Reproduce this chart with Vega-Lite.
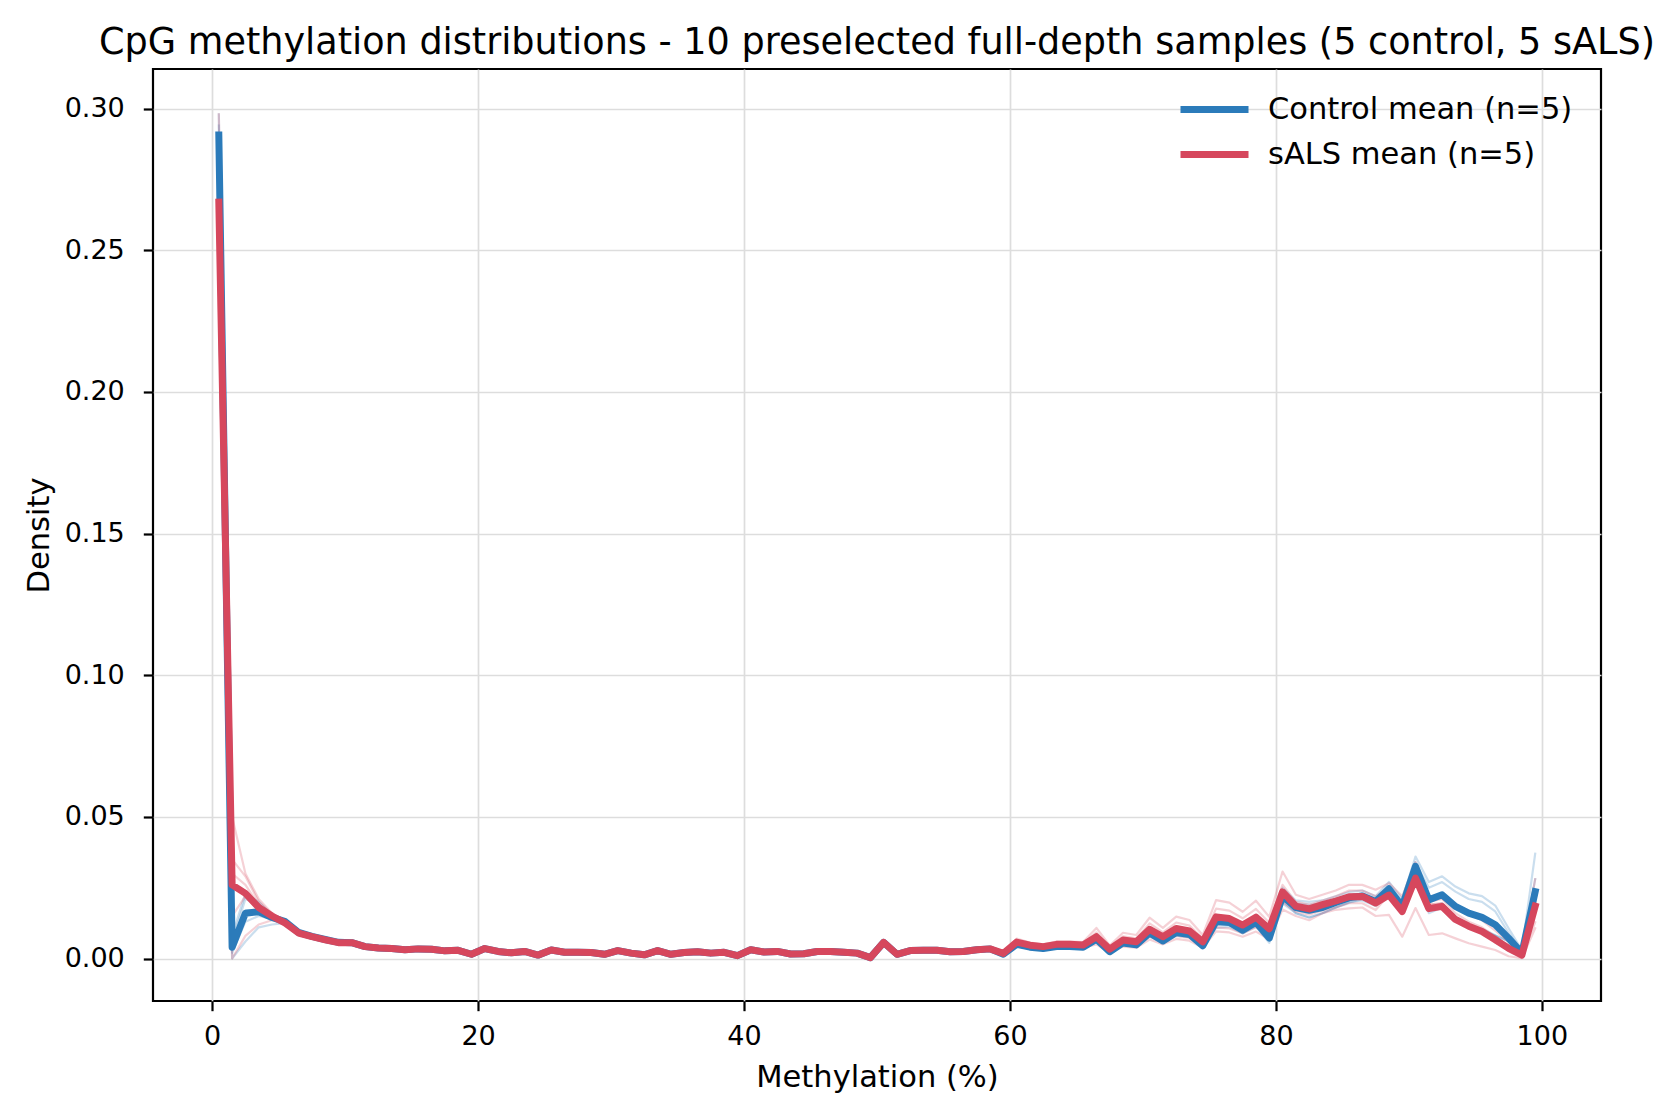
{
  "$schema": "https://vega.github.io/schema/vega-lite/v6.json",
  "description": "CpG methylation distributions, control vs sALS",
  "width": 1448,
  "height": 932,
  "autosize": {"type": "none"},
  "padding": {"left": 153, "top": 69, "right": 78, "bottom": 113},
  "background": "white",
  "title": {
    "text": "CpG methylation distributions - 10 preselected full-depth samples (5 control, 5 sALS)",
    "font": "DejaVu Sans",
    "fontSize": 36.6,
    "fontWeight": "normal",
    "color": "black",
    "anchor": "middle",
    "frame": "group",
    "baseline": "alphabetic",
    "offset": 17,
    "dy": 39
  },
  "config": {
    "font": "DejaVu Sans",
    "view": {"stroke": "black", "strokeWidth": 2.2},
    "axis": {
      "domain": false,
      "grid": true,
      "gridColor": "#dddddd",
      "gridWidth": 1.7,
      "tickColor": "black",
      "tickSize": 9.7,
      "tickWidth": 2.2,
      "labelFont": "DejaVu Sans",
      "labelFontSize": 27,
      "labelColor": "black",
      "labelPadding": 8,
      "titleFont": "DejaVu Sans",
      "titleFontSize": 30.5,
      "titleFontWeight": "normal",
      "titleColor": "black"
    },
    "legend": {
      "orient": "none",
      "legendX": 1024,
      "legendY": 18,
      "padding": 0,
      "symbolType": "stroke",
      "symbolSize": 4624,
      "symbolStrokeWidth": 7,
      "clipHeight": 45,
      "rowPadding": 0,
      "labelOffset": 16,
      "labelLimit": 500,
      "labelFont": "DejaVu Sans",
      "labelFontSize": 30.5,
      "labelColor": "black",
      "title": null
    }
  },
  "data": {
    "values": [
      {"x": 0.5, "cm": 0.2907, "sm": 0.267, "c1": 0.298, "c2": 0.294, "c3": 0.29, "c4": 0.287, "c5": 0.284, "s1": 0.298, "s2": 0.285, "s3": 0.27, "s4": 0.25, "s5": 0.232},
      {"x": 1.5, "cm": 0.004, "sm": 0.026, "c1": 0.0, "c2": 0.002, "c3": 0.004, "c4": 0.006, "c5": 0.008, "s1": 0.05, "s2": 0.035, "s3": 0.03, "s4": 0.015, "s5": 0.0},
      {"x": 2.5, "cm": 0.016, "sm": 0.023, "c1": 0.006, "c2": 0.013, "c3": 0.017, "c4": 0.021, "c5": 0.023, "s1": 0.03, "s2": 0.029, "s3": 0.026, "s4": 0.022, "s5": 0.008},
      {"x": 3.5, "cm": 0.0165, "sm": 0.018, "c1": 0.011, "c2": 0.015, "c3": 0.017, "c4": 0.019, "c5": 0.02, "s1": 0.021, "s2": 0.02, "s3": 0.019, "s4": 0.018, "s5": 0.012},
      {"x": 4.5, "cm": 0.0145, "sm": 0.015, "c1": 0.012, "c2": 0.014, "c3": 0.015, "c4": 0.0155, "c5": 0.0155, "s1": 0.016, "s2": 0.0155, "s3": 0.015, "s4": 0.015, "s5": 0.0135},
      {"x": 5.5, "cm": 0.013, "sm": 0.0125, "c1": 0.0125, "c2": 0.013, "c3": 0.013, "c4": 0.0135, "c5": 0.013, "s1": 0.013, "s2": 0.0125, "s3": 0.0125, "s4": 0.0125, "s5": 0.012},
      {"x": 6.5, "cm": 0.0092, "sm": 0.009, "c1": 0.0096, "c2": 0.0094, "c3": 0.0092, "c4": 0.009, "c5": 0.0088, "s1": 0.0094, "s2": 0.0092, "s3": 0.009, "s4": 0.0088, "s5": 0.0086},
      {"x": 7.5, "cm": 0.0078, "sm": 0.0077, "c1": 0.0082, "c2": 0.008, "c3": 0.0078, "c4": 0.0076, "c5": 0.0074, "s1": 0.0081, "s2": 0.0079, "s3": 0.0077, "s4": 0.0075, "s5": 0.0073},
      {"x": 8.5, "cm": 0.0067, "sm": 0.0066, "c1": 0.0071, "c2": 0.0069, "c3": 0.0067, "c4": 0.0065, "c5": 0.0063, "s1": 0.007, "s2": 0.0068, "s3": 0.0066, "s4": 0.0064, "s5": 0.0062},
      {"x": 9.5, "cm": 0.0057, "sm": 0.0056, "c1": 0.006, "c2": 0.0059, "c3": 0.0057, "c4": 0.0055, "c5": 0.0054, "s1": 0.0059, "s2": 0.0058, "s3": 0.0056, "s4": 0.0054, "s5": 0.0053},
      {"x": 10.5, "cm": 0.0056, "sm": 0.0056, "c1": 0.0058, "c2": 0.0057, "c3": 0.0056, "c4": 0.0055, "c5": 0.0054, "s1": 0.0058, "s2": 0.0057, "s3": 0.0056, "s4": 0.0055, "s5": 0.0054},
      {"x": 11.5, "cm": 0.0042, "sm": 0.0042, "c1": 0.0044, "c2": 0.0043, "c3": 0.0042, "c4": 0.0041, "c5": 0.004, "s1": 0.0044, "s2": 0.0043, "s3": 0.0042, "s4": 0.0041, "s5": 0.004},
      {"x": 12.5, "cm": 0.0037, "sm": 0.0037, "c1": 0.0039, "c2": 0.0038, "c3": 0.0037, "c4": 0.0036, "c5": 0.0035, "s1": 0.0039, "s2": 0.0038, "s3": 0.0037, "s4": 0.0036, "s5": 0.0035},
      {"x": 13.5, "cm": 0.0035, "sm": 0.0035, "c1": 0.0037, "c2": 0.0036, "c3": 0.0035, "c4": 0.0034, "c5": 0.0033, "s1": 0.0037, "s2": 0.0036, "s3": 0.0035, "s4": 0.0034, "s5": 0.0033},
      {"x": 14.5, "cm": 0.0031, "sm": 0.0031, "c1": 0.0033, "c2": 0.0032, "c3": 0.0031, "c4": 0.003, "c5": 0.0029, "s1": 0.0033, "s2": 0.0032, "s3": 0.0031, "s4": 0.003, "s5": 0.0029},
      {"x": 15.5, "cm": 0.0034, "sm": 0.0034, "c1": 0.0036, "c2": 0.0035, "c3": 0.0034, "c4": 0.0033, "c5": 0.0032, "s1": 0.0036, "s2": 0.0035, "s3": 0.0034, "s4": 0.0033, "s5": 0.0032},
      {"x": 16.5, "cm": 0.0033, "sm": 0.0033, "c1": 0.0035, "c2": 0.0034, "c3": 0.0033, "c4": 0.0032, "c5": 0.0031, "s1": 0.0035, "s2": 0.0034, "s3": 0.0033, "s4": 0.0032, "s5": 0.0031},
      {"x": 17.5, "cm": 0.0027, "sm": 0.0027, "c1": 0.0029, "c2": 0.0028, "c3": 0.0027, "c4": 0.0026, "c5": 0.0025, "s1": 0.0029, "s2": 0.0028, "s3": 0.0027, "s4": 0.0026, "s5": 0.0025},
      {"x": 18.5, "cm": 0.0029, "sm": 0.0029, "c1": 0.0031, "c2": 0.003, "c3": 0.0029, "c4": 0.0028, "c5": 0.0027, "s1": 0.0031, "s2": 0.003, "s3": 0.0029, "s4": 0.0028, "s5": 0.0027},
      {"x": 19.5, "cm": 0.0015, "sm": 0.0015, "c1": 0.0017, "c2": 0.0016, "c3": 0.0015, "c4": 0.0014, "c5": 0.0013, "s1": 0.0017, "s2": 0.0016, "s3": 0.0015, "s4": 0.0014, "s5": 0.0013},
      {"x": 20.5, "cm": 0.0035, "sm": 0.0035, "c1": 0.0037, "c2": 0.0036, "c3": 0.0035, "c4": 0.0034, "c5": 0.0033, "s1": 0.0037, "s2": 0.0036, "s3": 0.0035, "s4": 0.0034, "s5": 0.0033},
      {"x": 21.5, "cm": 0.0025, "sm": 0.0025, "c1": 0.0027, "c2": 0.0026, "c3": 0.0025, "c4": 0.0024, "c5": 0.0023, "s1": 0.0027, "s2": 0.0026, "s3": 0.0025, "s4": 0.0024, "s5": 0.0023},
      {"x": 22.5, "cm": 0.002, "sm": 0.002, "c1": 0.0022, "c2": 0.0021, "c3": 0.002, "c4": 0.0019, "c5": 0.0018, "s1": 0.0022, "s2": 0.0021, "s3": 0.002, "s4": 0.0019, "s5": 0.0018},
      {"x": 23.5, "cm": 0.0025, "sm": 0.0025, "c1": 0.0027, "c2": 0.0026, "c3": 0.0025, "c4": 0.0024, "c5": 0.0023, "s1": 0.0027, "s2": 0.0026, "s3": 0.0025, "s4": 0.0024, "s5": 0.0023},
      {"x": 24.5, "cm": 0.0012, "sm": 0.0012, "c1": 0.0014, "c2": 0.0013, "c3": 0.0012, "c4": 0.0011, "c5": 0.001, "s1": 0.0014, "s2": 0.0013, "s3": 0.0012, "s4": 0.0011, "s5": 0.001},
      {"x": 25.5, "cm": 0.003, "sm": 0.003, "c1": 0.0032, "c2": 0.0031, "c3": 0.003, "c4": 0.0029, "c5": 0.0028, "s1": 0.0032, "s2": 0.0031, "s3": 0.003, "s4": 0.0029, "s5": 0.0028},
      {"x": 26.5, "cm": 0.0022, "sm": 0.0022, "c1": 0.0024, "c2": 0.0023, "c3": 0.0022, "c4": 0.0021, "c5": 0.002, "s1": 0.0024, "s2": 0.0023, "s3": 0.0022, "s4": 0.0021, "s5": 0.002},
      {"x": 27.5, "cm": 0.0022, "sm": 0.0022, "c1": 0.0024, "c2": 0.0023, "c3": 0.0022, "c4": 0.0021, "c5": 0.002, "s1": 0.0024, "s2": 0.0023, "s3": 0.0022, "s4": 0.0021, "s5": 0.002},
      {"x": 28.5, "cm": 0.0021, "sm": 0.0021, "c1": 0.0023, "c2": 0.0022, "c3": 0.0021, "c4": 0.002, "c5": 0.0019, "s1": 0.0023, "s2": 0.0022, "s3": 0.0021, "s4": 0.002, "s5": 0.0019},
      {"x": 29.5, "cm": 0.0015, "sm": 0.0015, "c1": 0.0017, "c2": 0.0016, "c3": 0.0015, "c4": 0.0014, "c5": 0.0013, "s1": 0.0017, "s2": 0.0016, "s3": 0.0015, "s4": 0.0014, "s5": 0.0013},
      {"x": 30.5, "cm": 0.0028, "sm": 0.0028, "c1": 0.003, "c2": 0.0029, "c3": 0.0028, "c4": 0.0027, "c5": 0.0026, "s1": 0.003, "s2": 0.0029, "s3": 0.0028, "s4": 0.0027, "s5": 0.0026},
      {"x": 31.5, "cm": 0.0019, "sm": 0.0019, "c1": 0.0021, "c2": 0.002, "c3": 0.0019, "c4": 0.0018, "c5": 0.0017, "s1": 0.0021, "s2": 0.002, "s3": 0.0019, "s4": 0.0018, "s5": 0.0017},
      {"x": 32.5, "cm": 0.0013, "sm": 0.0013, "c1": 0.0015, "c2": 0.0014, "c3": 0.0013, "c4": 0.0012, "c5": 0.0011, "s1": 0.0015, "s2": 0.0014, "s3": 0.0013, "s4": 0.0012, "s5": 0.0011},
      {"x": 33.5, "cm": 0.0028, "sm": 0.0028, "c1": 0.003, "c2": 0.0029, "c3": 0.0028, "c4": 0.0027, "c5": 0.0026, "s1": 0.003, "s2": 0.0029, "s3": 0.0028, "s4": 0.0027, "s5": 0.0026},
      {"x": 34.5, "cm": 0.0015, "sm": 0.0015, "c1": 0.0017, "c2": 0.0016, "c3": 0.0015, "c4": 0.0014, "c5": 0.0013, "s1": 0.0017, "s2": 0.0016, "s3": 0.0015, "s4": 0.0014, "s5": 0.0013},
      {"x": 35.5, "cm": 0.0021, "sm": 0.0021, "c1": 0.0023, "c2": 0.0022, "c3": 0.0021, "c4": 0.002, "c5": 0.0019, "s1": 0.0023, "s2": 0.0022, "s3": 0.0021, "s4": 0.002, "s5": 0.0019},
      {"x": 36.5, "cm": 0.0024, "sm": 0.0024, "c1": 0.0026, "c2": 0.0025, "c3": 0.0024, "c4": 0.0023, "c5": 0.0022, "s1": 0.0026, "s2": 0.0025, "s3": 0.0024, "s4": 0.0023, "s5": 0.0022},
      {"x": 37.5, "cm": 0.0019, "sm": 0.0019, "c1": 0.0021, "c2": 0.002, "c3": 0.0019, "c4": 0.0018, "c5": 0.0017, "s1": 0.0021, "s2": 0.002, "s3": 0.0019, "s4": 0.0018, "s5": 0.0017},
      {"x": 38.5, "cm": 0.0022, "sm": 0.0022, "c1": 0.0024, "c2": 0.0023, "c3": 0.0022, "c4": 0.0021, "c5": 0.002, "s1": 0.0024, "s2": 0.0023, "s3": 0.0022, "s4": 0.0021, "s5": 0.002},
      {"x": 39.5, "cm": 0.001, "sm": 0.001, "c1": 0.0012, "c2": 0.0011, "c3": 0.001, "c4": 0.0009, "c5": 0.0008, "s1": 0.0012, "s2": 0.0011, "s3": 0.001, "s4": 0.0009, "s5": 0.0008},
      {"x": 40.5, "cm": 0.0031, "sm": 0.0031, "c1": 0.0033, "c2": 0.0032, "c3": 0.0031, "c4": 0.003, "c5": 0.0029, "s1": 0.0033, "s2": 0.0032, "s3": 0.0031, "s4": 0.003, "s5": 0.0029},
      {"x": 41.5, "cm": 0.0023, "sm": 0.0023, "c1": 0.0025, "c2": 0.0024, "c3": 0.0023, "c4": 0.0022, "c5": 0.0021, "s1": 0.0025, "s2": 0.0024, "s3": 0.0023, "s4": 0.0022, "s5": 0.0021},
      {"x": 42.5, "cm": 0.0025, "sm": 0.0025, "c1": 0.0027, "c2": 0.0026, "c3": 0.0025, "c4": 0.0024, "c5": 0.0023, "s1": 0.0027, "s2": 0.0026, "s3": 0.0025, "s4": 0.0024, "s5": 0.0023},
      {"x": 43.5, "cm": 0.0016, "sm": 0.0016, "c1": 0.0018, "c2": 0.0017, "c3": 0.0016, "c4": 0.0015, "c5": 0.0014, "s1": 0.0018, "s2": 0.0017, "s3": 0.0016, "s4": 0.0015, "s5": 0.0014},
      {"x": 44.5, "cm": 0.0017, "sm": 0.0017, "c1": 0.0019, "c2": 0.0018, "c3": 0.0017, "c4": 0.0016, "c5": 0.0015, "s1": 0.0019, "s2": 0.0018, "s3": 0.0017, "s4": 0.0016, "s5": 0.0015},
      {"x": 45.5, "cm": 0.0025, "sm": 0.0025, "c1": 0.0027, "c2": 0.0026, "c3": 0.0025, "c4": 0.0024, "c5": 0.0023, "s1": 0.0027, "s2": 0.0026, "s3": 0.0025, "s4": 0.0024, "s5": 0.0023},
      {"x": 46.5, "cm": 0.0025, "sm": 0.0025, "c1": 0.0027, "c2": 0.0026, "c3": 0.0025, "c4": 0.0024, "c5": 0.0023, "s1": 0.0027, "s2": 0.0026, "s3": 0.0025, "s4": 0.0024, "s5": 0.0023},
      {"x": 47.5, "cm": 0.0022, "sm": 0.0022, "c1": 0.0024, "c2": 0.0023, "c3": 0.0022, "c4": 0.0021, "c5": 0.002, "s1": 0.0024, "s2": 0.0023, "s3": 0.0022, "s4": 0.0021, "s5": 0.002},
      {"x": 48.5, "cm": 0.0019, "sm": 0.0019, "c1": 0.0021, "c2": 0.002, "c3": 0.0019, "c4": 0.0018, "c5": 0.0017, "s1": 0.0021, "s2": 0.002, "s3": 0.0019, "s4": 0.0018, "s5": 0.0017},
      {"x": 49.5, "cm": 0.0003, "sm": 0.0003, "c1": 0.0005, "c2": 0.0004, "c3": 0.0003, "c4": 0.0002, "c5": 0.0001, "s1": 0.0005, "s2": 0.0004, "s3": 0.0003, "s4": 0.0002, "s5": 0.0001},
      {"x": 50.5, "cm": 0.0057, "sm": 0.0057, "c1": 0.0059, "c2": 0.0058, "c3": 0.0057, "c4": 0.0056, "c5": 0.0055, "s1": 0.0059, "s2": 0.0058, "s3": 0.0057, "s4": 0.0056, "s5": 0.0055},
      {"x": 51.5, "cm": 0.0015, "sm": 0.0015, "c1": 0.0017, "c2": 0.0016, "c3": 0.0015, "c4": 0.0014, "c5": 0.0013, "s1": 0.0017, "s2": 0.0016, "s3": 0.0015, "s4": 0.0014, "s5": 0.0013},
      {"x": 52.5, "cm": 0.0028, "sm": 0.0028, "c1": 0.003, "c2": 0.0029, "c3": 0.0028, "c4": 0.0027, "c5": 0.0026, "s1": 0.003, "s2": 0.0029, "s3": 0.0028, "s4": 0.0027, "s5": 0.0026},
      {"x": 53.5, "cm": 0.0029, "sm": 0.0029, "c1": 0.0031, "c2": 0.003, "c3": 0.0029, "c4": 0.0028, "c5": 0.0027, "s1": 0.0031, "s2": 0.003, "s3": 0.0029, "s4": 0.0028, "s5": 0.0027},
      {"x": 54.5, "cm": 0.0029, "sm": 0.0029, "c1": 0.0031, "c2": 0.003, "c3": 0.0029, "c4": 0.0028, "c5": 0.0027, "s1": 0.0031, "s2": 0.003, "s3": 0.0029, "s4": 0.0028, "s5": 0.0027},
      {"x": 55.5, "cm": 0.0024, "sm": 0.0024, "c1": 0.0026, "c2": 0.0025, "c3": 0.0024, "c4": 0.0023, "c5": 0.0022, "s1": 0.0026, "s2": 0.0025, "s3": 0.0024, "s4": 0.0023, "s5": 0.0022},
      {"x": 56.5, "cm": 0.0025, "sm": 0.0025, "c1": 0.0027, "c2": 0.0026, "c3": 0.0025, "c4": 0.0024, "c5": 0.0023, "s1": 0.0027, "s2": 0.0026, "s3": 0.0025, "s4": 0.0024, "s5": 0.0023},
      {"x": 57.5, "cm": 0.0031, "sm": 0.0031, "c1": 0.0033, "c2": 0.0032, "c3": 0.0031, "c4": 0.003, "c5": 0.0029, "s1": 0.0033, "s2": 0.0032, "s3": 0.0031, "s4": 0.003, "s5": 0.0029},
      {"x": 58.5, "cm": 0.0034, "sm": 0.0034, "c1": 0.0036, "c2": 0.0035, "c3": 0.0034, "c4": 0.0033, "c5": 0.0032, "s1": 0.0036, "s2": 0.0035, "s3": 0.0034, "s4": 0.0033, "s5": 0.0032},
      {"x": 59.5, "cm": 0.0015, "sm": 0.0018, "c1": 0.0017, "c2": 0.0016, "c3": 0.0015, "c4": 0.0014, "c5": 0.0013, "s1": 0.0022, "s2": 0.002, "s3": 0.0018, "s4": 0.0016, "s5": 0.0014},
      {"x": 60.5, "cm": 0.005, "sm": 0.0058, "c1": 0.0056, "c2": 0.0052, "c3": 0.005, "c4": 0.0048, "c5": 0.0044, "s1": 0.007, "s2": 0.0064, "s3": 0.0058, "s4": 0.0052, "s5": 0.0046},
      {"x": 61.5, "cm": 0.004, "sm": 0.0047, "c1": 0.0045, "c2": 0.0042, "c3": 0.004, "c4": 0.0038, "c5": 0.0035, "s1": 0.0056, "s2": 0.0052, "s3": 0.0047, "s4": 0.0042, "s5": 0.0038},
      {"x": 62.5, "cm": 0.0035, "sm": 0.0042, "c1": 0.0039, "c2": 0.0037, "c3": 0.0035, "c4": 0.0033, "c5": 0.0031, "s1": 0.005, "s2": 0.0046, "s3": 0.0042, "s4": 0.0038, "s5": 0.0034},
      {"x": 63.5, "cm": 0.0042, "sm": 0.005, "c1": 0.0047, "c2": 0.0044, "c3": 0.0042, "c4": 0.004, "c5": 0.0037, "s1": 0.006, "s2": 0.0055, "s3": 0.005, "s4": 0.0045, "s5": 0.004},
      {"x": 64.5, "cm": 0.0042, "sm": 0.005, "c1": 0.0047, "c2": 0.0044, "c3": 0.0042, "c4": 0.004, "c5": 0.0037, "s1": 0.006, "s2": 0.0055, "s3": 0.005, "s4": 0.0045, "s5": 0.004},
      {"x": 65.5, "cm": 0.004, "sm": 0.0048, "c1": 0.0045, "c2": 0.0042, "c3": 0.004, "c4": 0.0038, "c5": 0.0035, "s1": 0.0058, "s2": 0.0053, "s3": 0.0048, "s4": 0.0043, "s5": 0.0038},
      {"x": 66.5, "cm": 0.0068, "sm": 0.0077, "c1": 0.0076, "c2": 0.0071, "c3": 0.0068, "c4": 0.0065, "c5": 0.006, "s1": 0.0108, "s2": 0.0092, "s3": 0.0077, "s4": 0.0058, "s5": 0.005},
      {"x": 67.5, "cm": 0.0024, "sm": 0.0033, "c1": 0.0027, "c2": 0.0025, "c3": 0.0024, "c4": 0.0023, "c5": 0.0021, "s1": 0.0046, "s2": 0.004, "s3": 0.0033, "s4": 0.0025, "s5": 0.0021},
      {"x": 68.5, "cm": 0.0055, "sm": 0.0065, "c1": 0.0062, "c2": 0.0058, "c3": 0.0055, "c4": 0.0052, "c5": 0.0048, "s1": 0.0091, "s2": 0.0078, "s3": 0.0065, "s4": 0.0049, "s5": 0.0042},
      {"x": 69.5, "cm": 0.0048, "sm": 0.0059, "c1": 0.0054, "c2": 0.005, "c3": 0.0048, "c4": 0.0046, "c5": 0.0042, "s1": 0.0083, "s2": 0.0071, "s3": 0.0059, "s4": 0.0044, "s5": 0.0038},
      {"x": 70.5, "cm": 0.009, "sm": 0.0103, "c1": 0.0101, "c2": 0.0095, "c3": 0.009, "c4": 0.0086, "c5": 0.0079, "s1": 0.0144, "s2": 0.0124, "s3": 0.0103, "s4": 0.0077, "s5": 0.0067},
      {"x": 71.5, "cm": 0.0062, "sm": 0.0077, "c1": 0.0069, "c2": 0.0065, "c3": 0.0062, "c4": 0.0059, "c5": 0.0055, "s1": 0.0108, "s2": 0.0092, "s3": 0.0077, "s4": 0.0058, "s5": 0.005},
      {"x": 72.5, "cm": 0.0092, "sm": 0.0106, "c1": 0.0103, "c2": 0.0097, "c3": 0.0092, "c4": 0.0087, "c5": 0.0081, "s1": 0.0148, "s2": 0.0127, "s3": 0.0106, "s4": 0.008, "s5": 0.0069},
      {"x": 73.5, "cm": 0.0085, "sm": 0.0097, "c1": 0.0095, "c2": 0.0089, "c3": 0.0085, "c4": 0.0081, "c5": 0.0075, "s1": 0.0136, "s2": 0.0116, "s3": 0.0097, "s4": 0.0073, "s5": 0.0063},
      {"x": 74.5, "cm": 0.0045, "sm": 0.0059, "c1": 0.005, "c2": 0.0047, "c3": 0.0045, "c4": 0.0043, "c5": 0.004, "s1": 0.0083, "s2": 0.0071, "s3": 0.0059, "s4": 0.0044, "s5": 0.0038},
      {"x": 75.5, "cm": 0.013, "sm": 0.0147, "c1": 0.0146, "c2": 0.0137, "c3": 0.013, "c4": 0.0124, "c5": 0.0108, "s1": 0.0206, "s2": 0.0176, "s3": 0.0147, "s4": 0.011, "s5": 0.0096},
      {"x": 76.5, "cm": 0.0127, "sm": 0.0141, "c1": 0.0142, "c2": 0.0133, "c3": 0.0127, "c4": 0.0121, "c5": 0.0112, "s1": 0.0197, "s2": 0.0169, "s3": 0.0141, "s4": 0.0106, "s5": 0.0092},
      {"x": 77.5, "cm": 0.01, "sm": 0.0118, "c1": 0.0112, "c2": 0.0105, "c3": 0.01, "c4": 0.0095, "c5": 0.0088, "s1": 0.0165, "s2": 0.0142, "s3": 0.0118, "s4": 0.0089, "s5": 0.0077},
      {"x": 78.5, "cm": 0.0128, "sm": 0.0146, "c1": 0.0143, "c2": 0.0134, "c3": 0.0128, "c4": 0.0122, "c5": 0.0113, "s1": 0.0204, "s2": 0.0175, "s3": 0.0146, "s4": 0.011, "s5": 0.0095},
      {"x": 79.5, "cm": 0.0072, "sm": 0.0105, "c1": 0.0085, "c2": 0.0076, "c3": 0.0072, "c4": 0.0068, "c5": 0.0055, "s1": 0.0147, "s2": 0.0126, "s3": 0.0105, "s4": 0.0079, "s5": 0.0068},
      {"x": 80.5, "cm": 0.022, "sm": 0.0235, "c1": 0.025, "c2": 0.023, "c3": 0.022, "c4": 0.0205, "c5": 0.0195, "s1": 0.0307, "s2": 0.026, "s3": 0.0235, "s4": 0.02, "s5": 0.0173},
      {"x": 81.5, "cm": 0.018, "sm": 0.0185, "c1": 0.0205, "c2": 0.0195, "c3": 0.018, "c4": 0.016, "c5": 0.016, "s1": 0.0225, "s2": 0.02, "s3": 0.0185, "s4": 0.0165, "s5": 0.015},
      {"x": 82.5, "cm": 0.017, "sm": 0.0175, "c1": 0.02, "c2": 0.019, "c3": 0.017, "c4": 0.0145, "c5": 0.0145, "s1": 0.021, "s2": 0.019, "s3": 0.0175, "s4": 0.0155, "s5": 0.0135},
      {"x": 83.5, "cm": 0.018, "sm": 0.019, "c1": 0.0205, "c2": 0.0195, "c3": 0.018, "c4": 0.016, "c5": 0.016, "s1": 0.0225, "s2": 0.0205, "s3": 0.019, "s4": 0.017, "s5": 0.016},
      {"x": 84.5, "cm": 0.0198, "sm": 0.0203, "c1": 0.022, "c2": 0.021, "c3": 0.0198, "c4": 0.018, "c5": 0.018, "s1": 0.024, "s2": 0.022, "s3": 0.0203, "s4": 0.018, "s5": 0.0172},
      {"x": 85.5, "cm": 0.0214, "sm": 0.0218, "c1": 0.0235, "c2": 0.0225, "c3": 0.0214, "c4": 0.0197, "c5": 0.0199, "s1": 0.026, "s2": 0.024, "s3": 0.0218, "s4": 0.0195, "s5": 0.0177},
      {"x": 86.5, "cm": 0.0221, "sm": 0.0219, "c1": 0.024, "c2": 0.023, "c3": 0.022, "c4": 0.021, "c5": 0.0205, "s1": 0.026, "s2": 0.024, "s3": 0.022, "s4": 0.0195, "s5": 0.018},
      {"x": 87.5, "cm": 0.0201, "sm": 0.0196, "c1": 0.022, "c2": 0.021, "c3": 0.02, "c4": 0.019, "c5": 0.0185, "s1": 0.0243, "s2": 0.022, "s3": 0.0196, "s4": 0.0171, "s5": 0.015},
      {"x": 88.5, "cm": 0.0246, "sm": 0.0224, "c1": 0.027, "c2": 0.0255, "c3": 0.0245, "c4": 0.0235, "c5": 0.0225, "s1": 0.0266, "s2": 0.025, "s3": 0.0225, "s4": 0.0225, "s5": 0.0154},
      {"x": 89.5, "cm": 0.0184, "sm": 0.0166, "c1": 0.021, "c2": 0.0195, "c3": 0.018, "c4": 0.017, "c5": 0.0165, "s1": 0.022, "s2": 0.0195, "s3": 0.017, "s4": 0.0168, "s5": 0.0077},
      {"x": 90.5, "cm": 0.0325, "sm": 0.0284, "c1": 0.036, "c2": 0.034, "c3": 0.032, "c4": 0.0305, "c5": 0.03, "s1": 0.034, "s2": 0.031, "s3": 0.029, "s4": 0.0302, "s5": 0.0178},
      {"x": 91.5, "cm": 0.0207, "sm": 0.0176, "c1": 0.027, "c2": 0.025, "c3": 0.018, "c4": 0.0175, "c5": 0.016, "s1": 0.0215, "s2": 0.02, "s3": 0.019, "s4": 0.019, "s5": 0.0083},
      {"x": 92.5, "cm": 0.0225, "sm": 0.0184, "c1": 0.029, "c2": 0.027, "c3": 0.0195, "c4": 0.019, "c5": 0.018, "s1": 0.023, "s2": 0.021, "s3": 0.0195, "s4": 0.0195, "s5": 0.0089},
      {"x": 93.5, "cm": 0.0184, "sm": 0.0138, "c1": 0.0254, "c2": 0.0236, "c3": 0.0148, "c4": 0.0142, "c5": 0.014, "s1": 0.018, "s2": 0.016, "s3": 0.0145, "s4": 0.0144, "s5": 0.0071},
      {"x": 94.5, "cm": 0.016, "sm": 0.0114, "c1": 0.023, "c2": 0.021, "c3": 0.012, "c4": 0.012, "c5": 0.012, "s1": 0.0155, "s2": 0.013, "s3": 0.012, "s4": 0.0121, "s5": 0.0054},
      {"x": 95.5, "cm": 0.0145, "sm": 0.0095, "c1": 0.022, "c2": 0.02, "c3": 0.0105, "c4": 0.01, "c5": 0.01, "s1": 0.0135, "s2": 0.011, "s3": 0.01, "s4": 0.0098, "s5": 0.0042},
      {"x": 96.5, "cm": 0.0119, "sm": 0.0066, "c1": 0.0187, "c2": 0.0166, "c3": 0.0082, "c4": 0.008, "c5": 0.008, "s1": 0.0098, "s2": 0.0078, "s3": 0.0068, "s4": 0.0056, "s5": 0.003},
      {"x": 97.5, "cm": 0.0072, "sm": 0.0036, "c1": 0.0107, "c2": 0.009, "c3": 0.0062, "c4": 0.0061, "c5": 0.004, "s1": 0.0058, "s2": 0.0042, "s3": 0.0036, "s4": 0.0036, "s5": 0.0008},
      {"x": 98.5, "cm": 0.0019, "sm": 0.0012, "c1": 0.003, "c2": 0.0025, "c3": 0.0015, "c4": 0.0015, "c5": 0.001, "s1": 0.002, "s2": 0.0015, "s3": 0.0012, "s4": 0.0012, "s5": 0.0001},
      {"x": 99.5, "cm": 0.0236, "sm": 0.0185, "c1": 0.037, "c2": 0.028, "c3": 0.017, "c4": 0.017, "c5": 0.019, "s1": 0.028, "s2": 0.022, "s3": 0.019, "s4": 0.0128, "s5": 0.0107}
    ]
  },
  "encoding": {
    "x": {
      "field": "x",
      "type": "quantitative",
      "scale": {"domain": [-4.45, 104.45], "nice": false, "zero": false},
      "axis": {"values": [0, 20, 40, 60, 80, 100], "title": "Methylation (%)", "labelPadding": 13, "titlePadding": 13}
    }
  },
  "layer": [
    {
      "transform": [{"fold": ["c1", "c2", "c3", "c4", "c5"], "as": ["sample", "density"]}],
      "mark": {"type": "line", "color": "#2b7bba", "strokeOpacity": 0.25, "strokeWidth": 2.2, "strokeJoin": "round", "strokeCap": "square"},
      "encoding": {
        "y": {
          "field": "density",
          "type": "quantitative",
          "scale": {"domain": [-0.015, 0.314], "nice": false, "zero": false},
          "axis": {"values": [0, 0.05, 0.1, 0.15, 0.2, 0.25, 0.3], "format": ".2f", "title": "Density", "labelPadding": 19, "titlePadding": 10}
        },
        "detail": {"field": "sample"}
      }
    },
    {
      "transform": [{"fold": ["s1", "s2", "s3", "s4", "s5"], "as": ["sample", "density"]}],
      "mark": {"type": "line", "color": "#d6475d", "strokeOpacity": 0.25, "strokeWidth": 2.2, "strokeJoin": "round", "strokeCap": "square"},
      "encoding": {
        "y": {"field": "density", "type": "quantitative"},
        "detail": {"field": "sample"}
      }
    },
    {
      "mark": {"type": "line", "strokeWidth": 7, "strokeJoin": "round", "strokeCap": "square"},
      "encoding": {
        "y": {"field": "cm", "type": "quantitative"},
        "color": {
          "datum": "Control mean (n=5)",
          "scale": {"domain": ["Control mean (n=5)", "sALS mean (n=5)"], "range": ["#2b7bba", "#d6475d"]}
        }
      }
    },
    {
      "mark": {"type": "line", "strokeWidth": 7, "strokeJoin": "round", "strokeCap": "square"},
      "encoding": {
        "y": {"field": "sm", "type": "quantitative"},
        "color": {"datum": "sALS mean (n=5)"}
      }
    }
  ]
}
